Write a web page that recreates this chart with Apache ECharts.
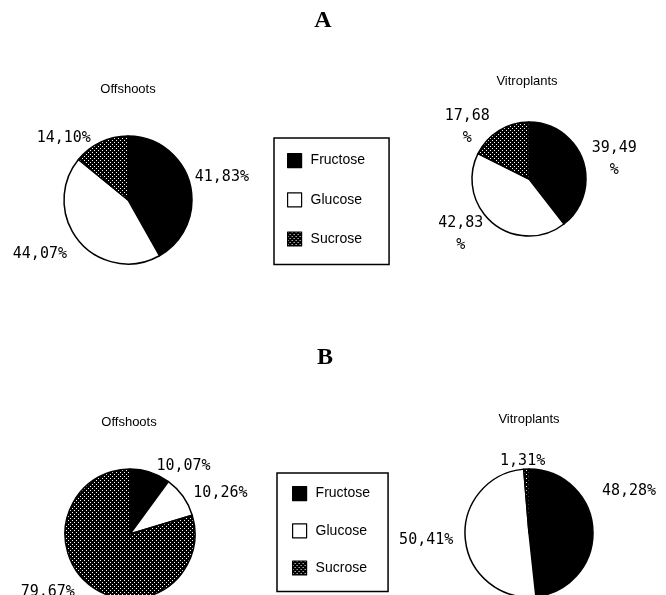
<!DOCTYPE html>
<html><head><meta charset="utf-8">
<script src="https://cdn.jsdelivr.net/npm/echarts@6/dist/echarts.min.js"></script>
<style>html,body{margin:0;padding:0;background:#fff}#c{width:666px;height:595px}</style>
</head><body><div id="c"></div>
<script>
// ---- data ----
const categories = ['Fructose', 'Glucose', 'Sucrose'];
const offshootsA = [41.83, 44.07, 14.10];
const vitroplantsA = [39.49, 42.83, 17.68];
const offshootsB = [10.07, 10.26, 79.67];
const vitroplantsB = [48.28, 50.41, 1.31];
const panelTitles = ['A', 'B'];
const pieTitles = ['Offshoots', 'Vitroplants'];

// ---- styles ----
function makeDots() {
  const c = document.createElement('canvas');
  c.width = 4; c.height = 4;
  const g = c.getContext('2d');
  g.fillStyle = '#000'; g.fillRect(0, 0, 4, 4);
  g.fillStyle = '#fff';
  g.fillRect(0, 0, 1, 1); g.fillRect(2, 2, 1, 1);
  return c;
}
const dotPattern = { image: makeDots(), repeat: 'repeat' };
const sliceColors = ['#000', '#fff', dotPattern];

const pies = [
  { values: offshootsA, center: [128, 200], r: 64, wrap: false, offs: [[-4, -6], [-4, 10], [-3, 0]] },
  { values: vitroplantsA, center: [529, 179], r: 57, wrap: true, offs: [[0, 0], [-2, 8], [-2, 0]] },
  { values: offshootsB, center: [130, 534], r: 65, wrap: false, offs: [[0, -2], [2, -1], [-9, 3]] },
  { values: vitroplantsB, center: [529, 533], r: 64, wrap: false, offs: [[0, -38], [-3, 1], [24, -4]] }
];
const fmt = v => v.toFixed(2).replace('.', ',');
const labelFont = '"DejaVu Sans Mono", monospace';

const series = pies.map((p, si) => ({
  type: 'pie',
  center: p.center,
  radius: [0, p.r],
  startAngle: 90,
  clockwise: true,
  avoidLabelOverlap: false,
  animation: false,
  silent: true,
  itemStyle: { borderColor: '#000', borderWidth: 1.5 },
  emphasis: { disabled: true },
  labelLine: { show: false, length: 4, length2: 0 },
  label: {
    show: true,
    position: 'outside',
    color: '#000',
    fontFamily: labelFont,
    fontSize: 15,
    formatter: prm => p.wrap ? '{c|' + fmt(prm.value) + '}\n{c|%}' : fmt(prm.value) + '%',
    rich: { c: { align: 'center', fontFamily: labelFont, fontSize: 15, lineHeight: 22, color: '#000' } }
  },
  labelLayout: prm => ({ dx: p.offs[prm.dataIndex][0], dy: p.offs[prm.dataIndex][1] }),
  data: p.values.map((v, i) => ({ name: categories[i], value: v, itemStyle: { color: sliceColors[i] } }))
}));

const titleFont = '"Liberation Sans", Arial, sans-serif';
const serifStyle = { fontFamily: '"Liberation Serif", serif', fontWeight: 'bold', fontSize: 24, color: '#000' };
const sansStyle = { fontFamily: titleFont, fontWeight: 'normal', fontSize: 13, color: '#000' };
const titles = [
  { text: panelTitles[0], left: 323, top: 9, textAlign: 'center', padding: 0, textStyle: serifStyle },
  { text: panelTitles[1], left: 325, top: 346, textAlign: 'center', padding: 0, textStyle: serifStyle },
  { text: pieTitles[0], left: 128, top: 83, textAlign: 'center', padding: 0, textStyle: sansStyle },
  { text: pieTitles[1], left: 527, top: 75, textAlign: 'center', padding: 0, textStyle: sansStyle },
  { text: pieTitles[0], left: 129, top: 416, textAlign: 'center', padding: 0, textStyle: sansStyle },
  { text: pieTitles[1], left: 529, top: 413, textAlign: 'center', padding: 0, textStyle: sansStyle }
];

function legendAt(left, top, pad, gap) {
  return {
    orient: 'vertical', left: left, top: top, padding: pad, itemGap: gap,
    height: 200,
    itemWidth: 14, itemHeight: 14, icon: 'rect',
    borderColor: '#000', borderWidth: 1.5, backgroundColor: '#fff',
    selectedMode: false,
    data: categories,
    itemStyle: { borderColor: '#000', borderWidth: 1.2 },
    textStyle: { fontFamily: titleFont, fontSize: 14, color: '#000', padding: [0, 0, 0, 4] }
  };
}

const chart = echarts.init(document.getElementById('c'), null, { renderer: 'canvas' });
chart.setOption({
  backgroundColor: '#fff',
  animation: false,
  title: titles,
  legend: [legendAt(274, 138, [15, 24, 18, 13], 24), legendAt(277, 473, [13, 18, 16, 15], 22)],
  series: series
});
</script></body></html>
